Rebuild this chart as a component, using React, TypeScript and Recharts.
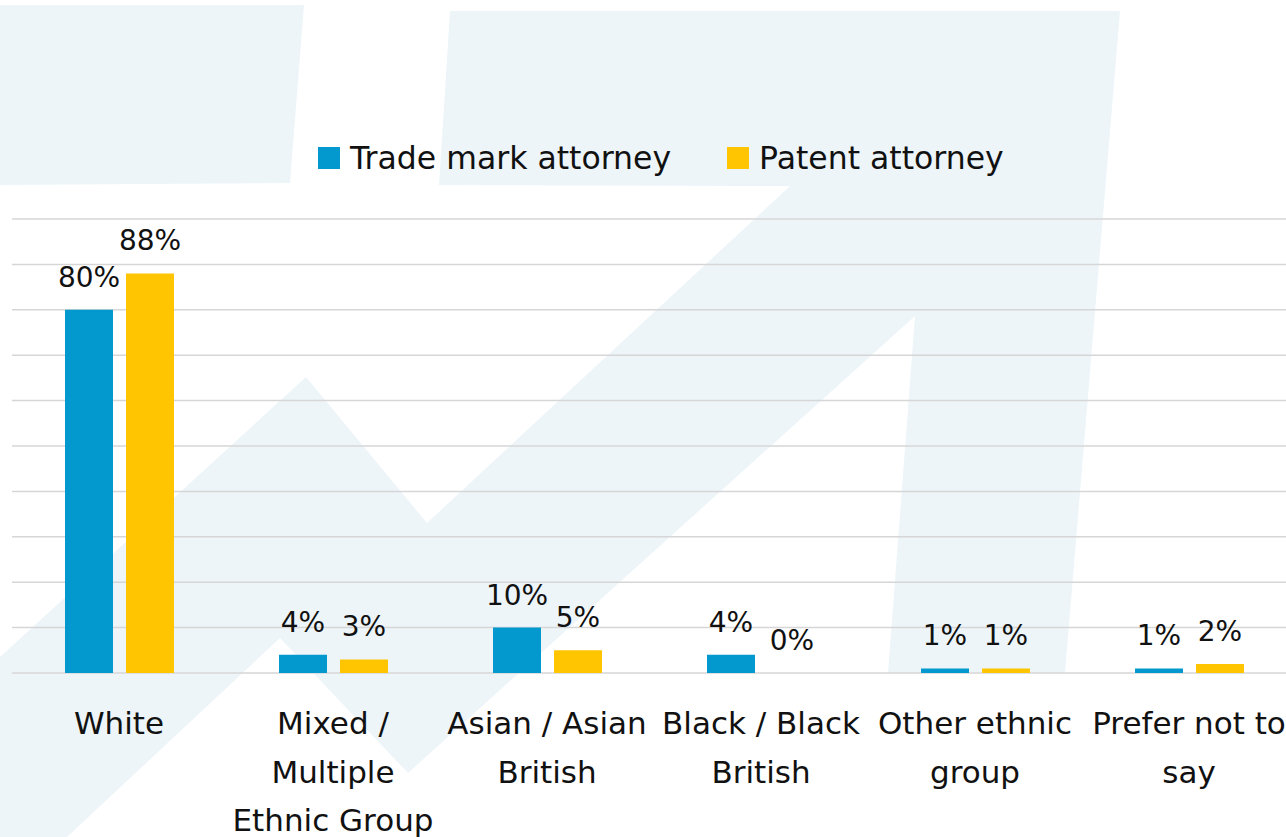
import { BarChart, Bar, XAxis, YAxis, CartesianGrid, Legend, LabelList } from 'recharts';

const categories = [
  'White',
  'Mixed / Multiple Ethnic Group',
  'Asian / Asian British',
  'Black / Black British',
  'Other ethnic group',
  'Prefer not to say',
];
const tradeMarkValues = [80, 4, 10, 4, 1, 1];
const patentValues = [88, 3, 5, 0, 1, 2];
const yTicks = [0, 10, 20, 30, 40, 50, 60, 70, 80, 90, 100];

// how each category label breaks into lines under the axis
const tickLines: Record<string, string[]> = {
  'White': ['White'],
  'Mixed / Multiple Ethnic Group': ['Mixed /', 'Multiple', 'Ethnic Group'],
  'Asian / Asian British': ['Asian / Asian', 'British'],
  'Black / Black British': ['Black / Black', 'British'],
  'Other ethnic group': ['Other ethnic', 'group'],
  'Prefer not to say': ['Prefer not to', 'say'],
};

const BLUE = '#0399CE';
const YELLOW = '#FEC500';
const FONT = '"DejaVu Sans", sans-serif';

const chartData = categories.map((name, i) => ({
  name,
  tradeMark: tradeMarkValues[i],
  patent: patentValues[i],
}));

const CategoryTick = ({ x, y, payload }: any) => {
  const lines = tickLines[payload.value] || [payload.value];
  return (
    <text x={x} y={y} textAnchor="middle" fill="#111" fontSize={31} fontFamily={FONT}>
      {lines.map((line, i) => (
        <tspan key={i} x={x} y={y + 61 + i * 48.5}>{line}</tspan>
      ))}
    </text>
  );
};

// value label above each bar (also drawn for 0 values)
const ValueLabel = (props: any) => {
  const { x, y, width, height, value } = props;
  const top = Number(y) + Math.min(0, Number(height) || 0);
  return (
    <text
      x={Number(x) + Number(width) / 2}
      y={top - 23}
      textAnchor="middle"
      fill="#111"
      fontSize={28}
      fontFamily={FONT}
    >
      {`${value}%`}
    </text>
  );
};

// keep zero-value bars in the layout (invisibly thin) so their label is drawn
const keepZero = (value: any) => (Number(value) === 0 ? 0.01 : 0);

const LegendContent = () => {
  const items = [
    { label: 'Trade mark attorney', color: BLUE },
    { label: 'Patent attorney', color: YELLOW },
  ];
  return (
    <div style={{ display: 'flex', alignItems: 'center', height: 44, paddingLeft: 318 }}>
      {items.map((it) => (
        <div key={it.label} style={{ display: 'flex', alignItems: 'center', marginRight: 56 }}>
          <span style={{ width: 22, height: 22, background: it.color, display: 'inline-block', marginRight: 10 }} />
          <span style={{ fontSize: 31.5, color: '#111', fontFamily: FONT, lineHeight: '44px' }}>{it.label}</span>
        </div>
      ))}
    </div>
  );
};

// faded arrow graphic behind the chart
const Backdrop = () => (
  <svg width={1286} height={837} style={{ position: 'absolute', left: 0, top: 0 }}>
    <polygon points="0,5 304,5 290,183 0,185" fill="#EDF5F9" />
    <polygon
      points="0,657 306,377 427,523 790,186 439,185 450,11 1120,11 1065,673 888,673 915,316 408,773 280,638 67,837 0,837"
      fill="#EDF5F9"
    />
  </svg>
);

export default function App() {
  return (
    <div
      style={{
        position: 'absolute',
        left: 0,
        top: 0,
        width: 1286,
        height: 837,
        overflow: 'hidden',
        background: '#fff',
        fontFamily: FONT,
      }}
    >
      <Backdrop />
      <div style={{ position: 'absolute', left: 0, top: 0 }}>
        <BarChart
          width={1300}
          height={837}
          data={chartData}
          margin={{ top: 175, right: 4, left: 12, bottom: 14 }}
          barSize={48}
          barGap={13}
        >
          <CartesianGrid horizontal vertical={false} stroke="#D6D6D6" strokeWidth={1.5} />
          <XAxis
            dataKey="name"
            axisLine={false}
            tickLine={false}
            tickSize={0}
            tickMargin={0}
            interval={0}
            height={150}
            tick={<CategoryTick />}
          />
          <YAxis hide domain={[0, 100]} ticks={yTicks} />
          <Legend
            verticalAlign="top"
            content={<LegendContent />}
            wrapperStyle={{ top: 136, left: 0, width: 1286, height: 44 }}
          />
          <Bar dataKey="tradeMark" name="Trade mark attorney" fill={BLUE} minPointSize={keepZero} isAnimationActive={false}>
            <LabelList dataKey="tradeMark" content={<ValueLabel />} />
          </Bar>
          <Bar dataKey="patent" name="Patent attorney" fill={YELLOW} minPointSize={keepZero} isAnimationActive={false}>
            <LabelList dataKey="patent" content={<ValueLabel />} />
          </Bar>
        </BarChart>
      </div>
    </div>
  );
}
